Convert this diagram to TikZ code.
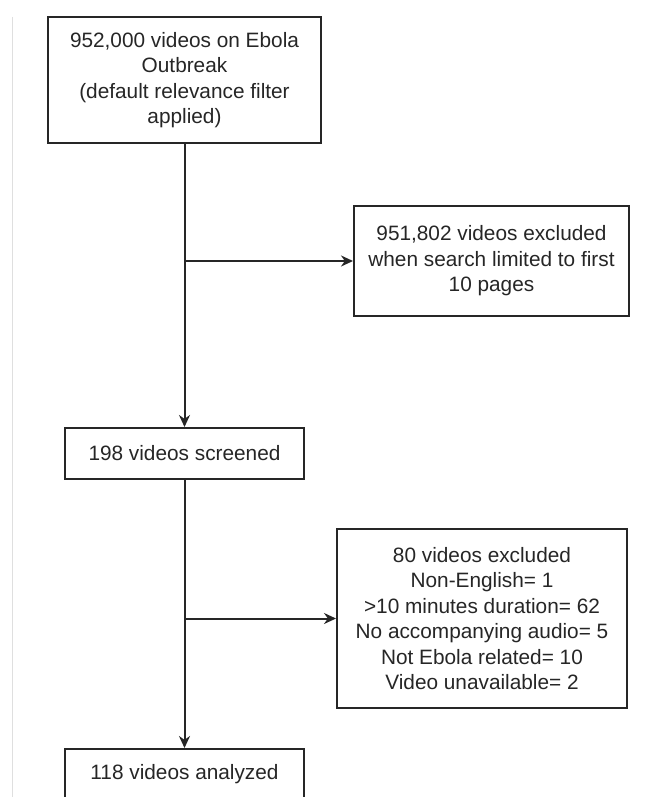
\documentclass[tikz,border=0pt]{standalone}
\usepackage{fontspec}
\setmainfont{Liberation Sans}
\usetikzlibrary{arrows.meta}
\definecolor{ink}{HTML}{262626}
\begin{document}
\begin{tikzpicture}[x=1pt,y=-1pt,
  box/.style={draw=ink,line width=2pt,text=ink,align=center,inner sep=0pt,
    font=\fontsize{20.8}{25.5}\selectfont},
  conn/.style={draw=ink,line width=2pt},
  arr/.style={conn,-{Stealth[length=12pt,width=11pt]}}]
\clip (0,0) rectangle (654,797);
\fill[white] (0,0) rectangle (654,797);
\coordinate (edgeA) at (12,17);
\coordinate (edgeB) at (12,797);
\draw[gray!25,line width=0.8pt] (edgeA) -- (edgeB);
\node[box,minimum width=273pt,minimum height=126pt] (b1) at (184.5,80)
  {952,000 videos on Ebola\\Outbreak\\(default relevance filter\\applied)};
\node[box,minimum width=275pt,minimum height=110pt] (b2) at (491.5,261)
  {951,802 videos excluded\\when search limited to first\\10 pages};
\node[box,minimum width=239pt,minimum height=51pt] (b3) at (184.5,453.5)
  {198 videos screened};
\node[box,minimum width=290pt,minimum height=179pt] (b4) at (482,618.5)
  {80 videos excluded\\Non-English= 1\\>10 minutes duration= 62\\No accompanying audio= 5\\Not Ebola related= 10\\Video unavailable= 2};
\node[box,minimum width=239pt,minimum height=51pt] (b5) at (184.5,774.5)
  {118 videos analyzed};
\draw[arr] (b1.south) -- (b3.north);
\draw[arr] (b1.south |- b2.west) -- (b2.west);
\draw[arr] (b3.south) -- (b5.north);
\draw[arr] (b3.south |- b4.west) -- (b4.west);
\end{tikzpicture}
\end{document}
